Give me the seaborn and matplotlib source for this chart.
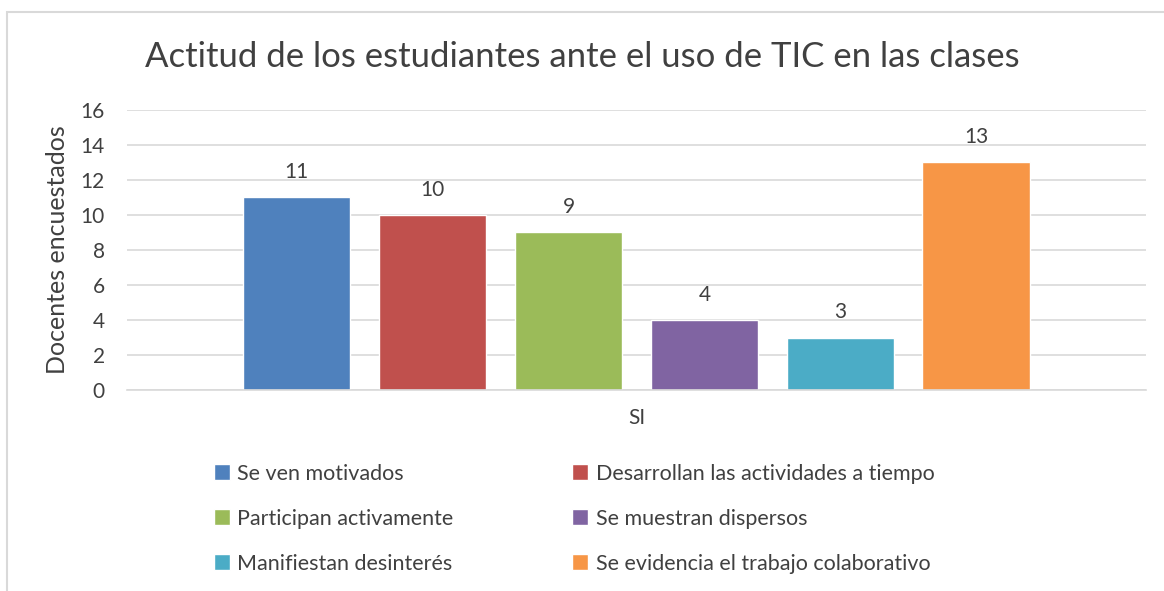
import matplotlib
matplotlib.use("Agg")
import matplotlib.pyplot as plt
import seaborn as sns
import pandas as pd
from matplotlib.patches import Rectangle

categorias = ["Se ven motivados", "Desarrollan las actividades a tiempo",
              "Participan activamente", "Se muestran dispersos",
              "Manifiestan desinterés", "Se evidencia el trabajo colaborativo"]
valores = [11, 10, 9, 4, 3, 13]
grupo = ["SI"] * 6
colores = ["#4F81BD", "#C0504D", "#9BBB59", "#8064A2", "#4BACC6", "#F79646"]
yticks = [0, 2, 4, 6, 8, 10, 12, 14, 16]

df = pd.DataFrame({"grupo": grupo, "actitud": categorias, "valor": valores})

sns.set_theme(style="white")
plt.rcParams['font.family'] = ['Lato', 'DejaVu Sans']
txt = "#404040"

fig = plt.figure(figsize=(11.64, 5.91), dpi=100)
ax = fig.add_axes([0.109, 0.340, 0.8755, 0.474])
sns.barplot(data=df, x="grupo", y="valor", hue="actitud", hue_order=categorias,
            palette=colores, gap=0.21, width=0.8, ax=ax, saturation=1, legend=True)

ax.set_ylim(0, 16)
ax.set_xlim(-0.5, 0.5)
ax.set_yticks(yticks)
ax.set_yticklabels([str(t) for t in yticks], fontsize=15, color=txt)
ax.tick_params(axis='x', labelsize=15, colors=txt, length=0, pad=13)
ax.tick_params(axis='y', length=0, pad=16)
ax.yaxis.grid(True, color="#D9D9D9", linewidth=1.2)
ax.set_axisbelow(True)
for s in ["top", "right", "left"]:
    ax.spines[s].set_visible(False)
ax.spines["bottom"].set_color("#D9D9D9")
ax.spines["bottom"].set_linewidth(1.2)
ax.set_xlabel("")
ax.set_ylabel("Docentes encuestados", fontsize=18, color=txt, labelpad=8)

for c in ax.containers:
    ax.bar_label(c, fontsize=15, color=txt, padding=11)

fig.suptitle("Actitud de los estudiantes ante el uso de TIC en las clases",
             fontsize=25, color=txt, y=0.93)

handles, labels = ax.get_legend_handles_labels()
ax.get_legend().remove()
order = [0, 2, 4, 1, 3, 5]
fig.legend([handles[i] for i in order], [labels[i] for i in order], ncol=2,
           loc="upper left", bbox_to_anchor=(0.167, 0.248), frameon=False,
           fontsize=15.5, labelcolor=txt, handlelength=0.75, handleheight=0.75,
           handletextpad=0.35, columnspacing=5.5, labelspacing=1.16)

fig.patches.append(Rectangle((0.006, -0.01), 1.1, 0.99, transform=fig.transFigure,
                             fill=False, edgecolor="#D9D9D9", linewidth=1.5))

fig.savefig("out.png", dpi=100)
